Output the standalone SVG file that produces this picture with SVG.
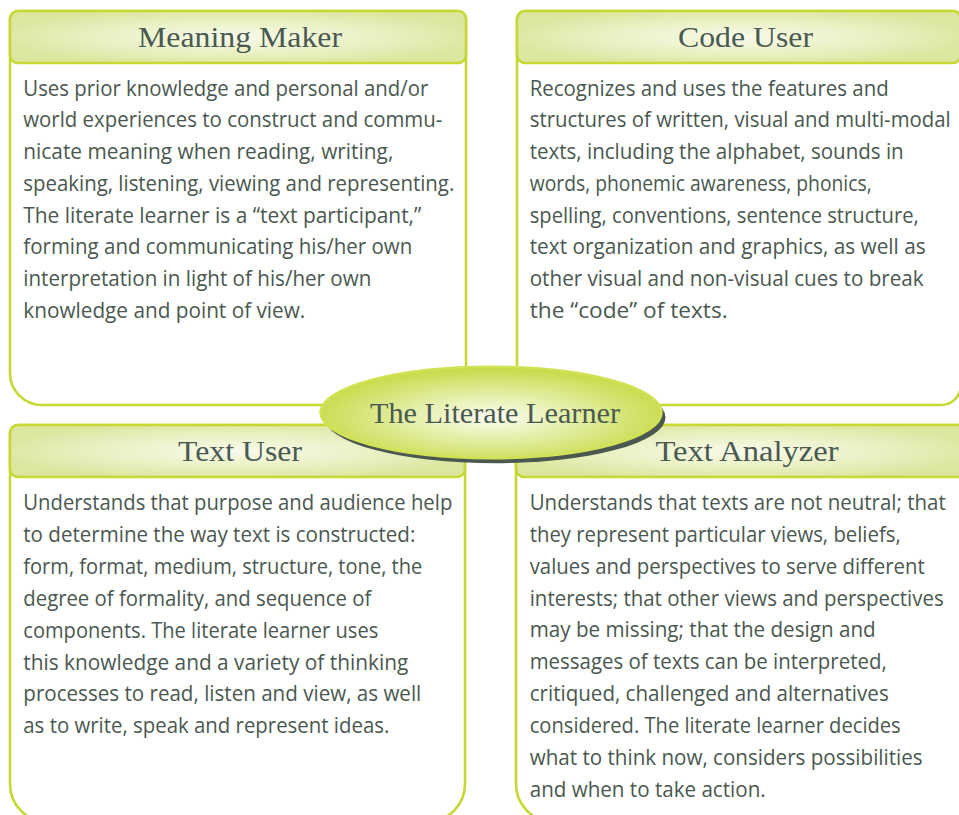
<svg xmlns="http://www.w3.org/2000/svg" width="959" height="815" viewBox="0 0 959 815">
<style>
.frame{fill:#ffffff;stroke:#c5d833;stroke-width:2.6}
.head{fill:url(#hg);stroke:#c5d833;stroke-width:2.6}
.title{font-family:"Liberation Serif","Times New Roman",serif;font-size:29px;fill:#4a5a51}
.body{font-family:"Open Sans","Liberation Sans",sans-serif;font-size:22px;fill:#4a5850}
</style>
<defs>
<radialGradient id="hg" cx="0.5" cy="0.5" r="0.55">
<stop offset="0" stop-color="#f8faea"/>
<stop offset="0.6" stop-color="#e8f0c0"/>
<stop offset="1" stop-color="#dbe69e"/>
</radialGradient>
<radialGradient id="eg" cx="0.5" cy="0.55" r="0.55">
<stop offset="0" stop-color="#fbfdf1"/>
<stop offset="0.45" stop-color="#e4eea6"/>
<stop offset="1" stop-color="#c6da44"/>
</radialGradient>
</defs>
<rect width="959" height="815" fill="#ffffff"/>

<g id="meaning-maker">
<path class="frame" d="M18,11 H458 A8,8 0 0 1 466,19 V373 A32,32 0 0 1 434,405 H42 A32,32 0 0 1 10,373 V19 A8,8 0 0 1 18,11 Z"/>
<rect class="head" x="10" y="11" width="456" height="52" rx="8"/>
<text class="title" x="138" y="47" textLength="204" lengthAdjust="spacingAndGlyphs">Meaning Maker</text>
<g class="body">
<text x="23.3" y="95.7" textLength="405" lengthAdjust="spacingAndGlyphs">Uses prior knowledge and personal and/or</text>
<text x="23.3" y="127.4" textLength="419" lengthAdjust="spacingAndGlyphs">world experiences to construct and commu-</text>
<text x="23.3" y="159.1" textLength="370" lengthAdjust="spacingAndGlyphs">nicate meaning when reading, writing,</text>
<text x="23.3" y="190.8" textLength="431" lengthAdjust="spacingAndGlyphs">speaking, listening, viewing and representing.</text>
<text x="23.3" y="222.5" textLength="398" lengthAdjust="spacingAndGlyphs">The literate learner is a “text participant,”</text>
<text x="23.3" y="254.2" textLength="389" lengthAdjust="spacingAndGlyphs">forming and communicating his/her own</text>
<text x="23.3" y="285.9" textLength="348" lengthAdjust="spacingAndGlyphs">interpretation in light of his/her own</text>
<text x="23.3" y="317.6" textLength="282" lengthAdjust="spacingAndGlyphs">knowledge and point of view.</text>
</g>
</g>

<g id="code-user">
<path class="frame" d="M525,11 H953 A8,8 0 0 1 961,19 V385 A20,20 0 0 1 941,405 H549 A32,32 0 0 1 517,373 V19 A8,8 0 0 1 525,11 Z"/>
<rect class="head" x="517" y="11" width="444" height="52" rx="8"/>
<text class="title" x="678" y="47" textLength="135" lengthAdjust="spacingAndGlyphs">Code User</text>
<g class="body">
<text x="529.7" y="95.7" textLength="359" lengthAdjust="spacingAndGlyphs">Recognizes and uses the features and</text>
<text x="529.7" y="127.4" textLength="421" lengthAdjust="spacingAndGlyphs">structures of written, visual and multi-modal</text>
<text x="529.7" y="159.1" textLength="374" lengthAdjust="spacingAndGlyphs">texts, including the alphabet, sounds in</text>
<text x="529.7" y="190.8" textLength="342" lengthAdjust="spacingAndGlyphs">words, phonemic awareness, phonics,</text>
<text x="529.7" y="222.5" textLength="389" lengthAdjust="spacingAndGlyphs">spelling, conventions, sentence structure,</text>
<text x="529.7" y="254.2" textLength="396" lengthAdjust="spacingAndGlyphs">text organization and graphics, as well as</text>
<text x="529.7" y="285.9" textLength="394" lengthAdjust="spacingAndGlyphs">other visual and non-visual cues to break</text>
<text x="529.7" y="317.6" textLength="198" lengthAdjust="spacingAndGlyphs">the “code” of texts.</text>
</g>
</g>

<g id="text-user">
<path class="frame" d="M18,425 H457 A8,8 0 0 1 465,433 V784 A38,38 0 0 1 427,822 H48 A38,38 0 0 1 10,784 V433 A8,8 0 0 1 18,425 Z"/>
<rect class="head" x="10" y="425" width="455" height="52" rx="8"/>
<text class="title" x="178" y="461" textLength="124" lengthAdjust="spacingAndGlyphs">Text User</text>
<g class="body">
<text x="23.3" y="510" textLength="429" lengthAdjust="spacingAndGlyphs">Understands that purpose and audience help</text>
<text x="23.3" y="541.9" textLength="392" lengthAdjust="spacingAndGlyphs">to determine the way text is constructed:</text>
<text x="23.3" y="573.8" textLength="399" lengthAdjust="spacingAndGlyphs">form, format, medium, structure, tone, the</text>
<text x="23.3" y="605.7" textLength="348" lengthAdjust="spacingAndGlyphs">degree of formality, and sequence of</text>
<text x="23.3" y="637.6" textLength="355" lengthAdjust="spacingAndGlyphs">components. The literate learner uses</text>
<text x="23.3" y="669.5" textLength="385" lengthAdjust="spacingAndGlyphs">this knowledge and a variety of thinking</text>
<text x="23.3" y="701.4" textLength="398" lengthAdjust="spacingAndGlyphs">processes to read, listen and view, as well</text>
<text x="23.3" y="733.3" textLength="366" lengthAdjust="spacingAndGlyphs">as to write, speak and represent ideas.</text>
</g>
</g>

<g id="text-analyzer">
<path class="frame" d="M524,425 H961 V822 H554 A38,38 0 0 1 516,784 V433 A8,8 0 0 1 524,425 Z"/>
<rect class="head" x="516" y="425" width="452" height="52" rx="8"/>
<text class="title" x="655.5" y="461" textLength="183" lengthAdjust="spacingAndGlyphs">Text Analyzer</text>
<g class="body">
<text x="529.7" y="510" textLength="416" lengthAdjust="spacingAndGlyphs">Understands that texts are not neutral; that</text>
<text x="529.7" y="541.9" textLength="371" lengthAdjust="spacingAndGlyphs">they represent particular views, beliefs,</text>
<text x="529.7" y="573.7" textLength="395" lengthAdjust="spacingAndGlyphs">values and perspectives to serve different</text>
<text x="529.7" y="605.6" textLength="414" lengthAdjust="spacingAndGlyphs">interests; that other views and perspectives</text>
<text x="529.7" y="637.4" textLength="346" lengthAdjust="spacingAndGlyphs">may be missing; that the design and</text>
<text x="529.7" y="669.3" textLength="357" lengthAdjust="spacingAndGlyphs">messages of texts can be interpreted,</text>
<text x="529.7" y="701.1" textLength="359" lengthAdjust="spacingAndGlyphs">critiqued, challenged and alternatives</text>
<text x="529.7" y="733" textLength="371" lengthAdjust="spacingAndGlyphs">considered. The literate learner decides</text>
<text x="529.7" y="764.8" textLength="393" lengthAdjust="spacingAndGlyphs">what to think now, considers possibilities</text>
<text x="529.7" y="796.7" textLength="236" lengthAdjust="spacingAndGlyphs">and when to take action.</text>
</g>
</g>

<g id="connectors"></g>

<g id="literate-learner">
<ellipse cx="495" cy="417.5" rx="170.5" ry="45.7" fill="#4a5850"/>
<ellipse cx="491" cy="412.5" rx="170.5" ry="45.7" fill="url(#eg)" stroke="#d2e256" stroke-width="2.5"/>
<text class="title" x="370" y="423" textLength="250" lengthAdjust="spacingAndGlyphs">The Literate Learner</text>
</g>
</svg>
